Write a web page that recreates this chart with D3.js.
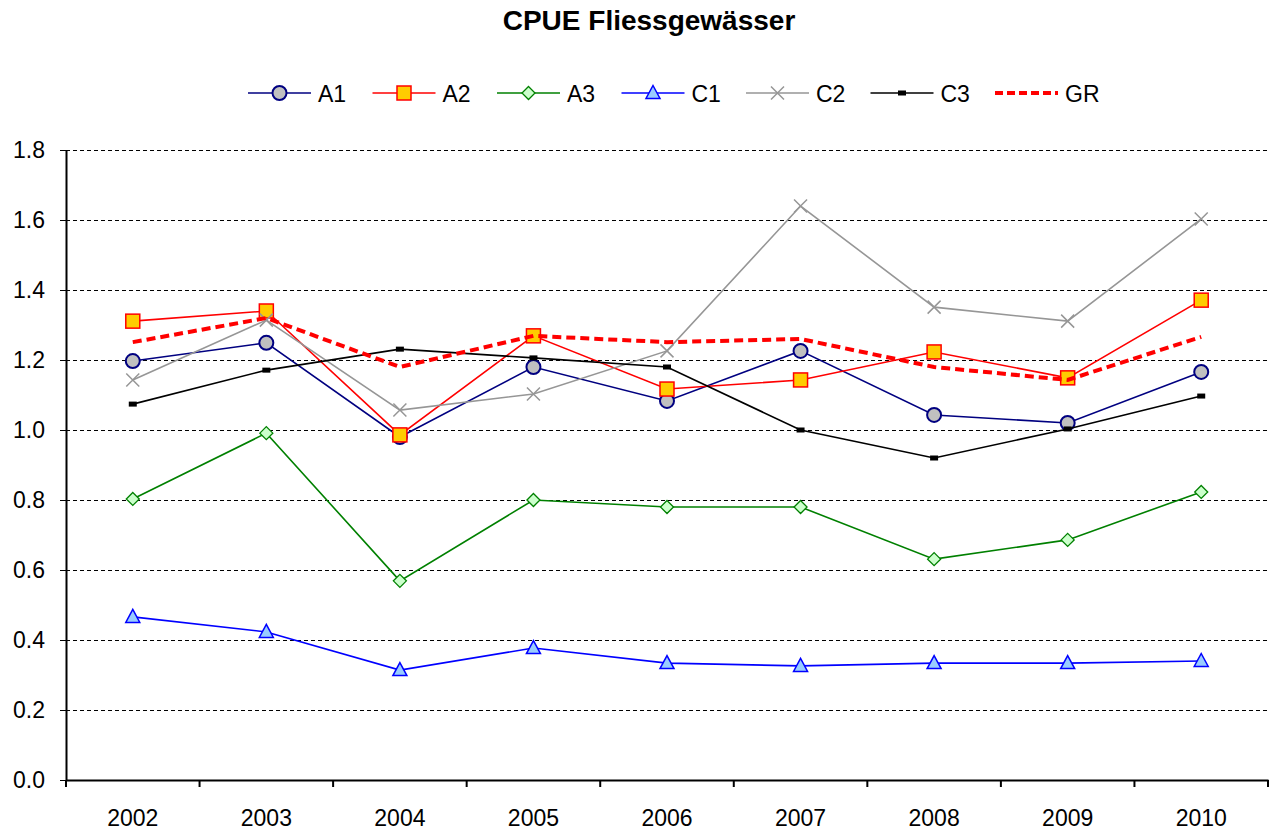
<!DOCTYPE html>
<html>
<head>
<meta charset="utf-8">
<script src="https://cdn.jsdelivr.net/npm/d3@7"></script>
<style>
  body { margin: 0; background: #fff; }
  text { font-family: "Liberation Sans", Arial, sans-serif; }
</style>
</head>
<body>
<div id="chart"></div>
<script>
// Data
const years = ['2002','2003','2004','2005','2006','2007','2008','2009','2010']
const A1 = [1.197, 1.249, 0.980, 1.180, 1.083, 1.226, 1.043, 1.020, 1.166]
const A2 = [1.311, 1.340, 0.986, 1.269, 1.117, 1.143, 1.223, 1.149, 1.371]
const A3 = [0.803, 0.991, 0.569, 0.800, 0.780, 0.780, 0.631, 0.686, 0.823]
const C1 = [0.466, 0.423, 0.314, 0.377, 0.334, 0.326, 0.334, 0.334, 0.340]
const C2 = [1.143, 1.314, 1.057, 1.103, 1.226, 1.640, 1.351, 1.311, 1.603]
const C3 = [1.074, 1.171, 1.231, 1.206, 1.180, 1.000, 0.920, 1.003, 1.097]
const GR = [1.251, 1.320, 1.180, 1.269, 1.251, 1.260, 1.180, 1.143, 1.266]
const yTicks = [0, 0.2, 0.4, 0.6, 0.8, 1.0, 1.2, 1.4, 1.6, 1.8]

const series = [
  { name: 'A1', values: A1, color: '#000080', marker: 'circle', fill: '#c0c0c0' },
  { name: 'A2', values: A2, color: '#ff0000', marker: 'square', fill: '#ffcc00' },
  { name: 'A3', values: A3, color: '#008000', marker: 'diamond', fill: '#ccffcc' },
  { name: 'C1', values: C1, color: '#0000ff', marker: 'triangle', fill: '#99ccff' },
  { name: 'C2', values: C2, color: '#969696', marker: 'x', fill: 'none' },
  { name: 'C3', values: C3, color: '#000000', marker: 'dash', fill: '#000' },
  { name: 'GR', values: GR, color: '#ff0000', marker: 'none', fill: 'none', dashed: true }
]

// Dimensions
const width = 1274, height = 834
const plot = { left: 66, right: 1268, top: 150, bottom: 780 }
const font = '"Liberation Sans", Arial, sans-serif'

const svg = d3.select('#chart').append('svg')
  .attr('width', width)
  .attr('height', height)

// Scales
const xScale = d3.scaleBand().domain(years).range([plot.left, plot.right])
const xPos = d => xScale(d) + xScale.bandwidth() / 2
const yScale = d3.scaleLinear().domain([0, 1.8]).range([plot.bottom, plot.top])

// Title
svg.append('text')
  .attr('x', 649).attr('y', 30)
  .attr('text-anchor', 'middle')
  .style('font-size', '28px').style('font-weight', 'bold')
  .text('CPUE Fliessgewässer')

// Gridlines
svg.append('g').selectAll('line')
  .data(yTicks.filter(t => t > 0))
  .join('line')
  .attr('x1', plot.left).attr('x2', plot.right)
  .attr('y1', d => yScale(d)).attr('y2', d => yScale(d))
  .attr('stroke', '#000').attr('stroke-width', 1)
  .attr('stroke-dasharray', '4,3')
  .attr('shape-rendering', 'crispEdges')

// Axes
const yAxis = d3.axisLeft(yScale)
  .tickValues(yTicks)
  .tickFormat(d3.format('.1f'))
  .tickSize(6).tickSizeOuter(0)
const yAxisGroup = svg.append('g')
  .attr('transform', `translate(${plot.left},0)`)
  .call(yAxis)
yAxisGroup.select('.domain').attr('stroke-width', 2)
yAxisGroup.selectAll('text').style('font-size', '23px').style('font-family', font).attr('x', -21).attr('fill', '#000')

const xAxis = d3.axisBottom(xScale).tickSize(0).tickSizeOuter(0)
const xAxisGroup = svg.append('g')
  .attr('transform', `translate(0,${plot.bottom})`)
  .call(xAxis)
xAxisGroup.select('.domain').attr('stroke-width', 2)
xAxisGroup.selectAll('text').style('font-size', '23px').style('font-family', font).attr('y', 30).attr('fill', '#000')
// category boundary ticks
xAxisGroup.selectAll('.bound')
  .data(d3.range(years.length + 1))
  .join('line')
  .attr('class', 'bound')
  .attr('x1', i => plot.left + i * xScale.step())
  .attr('x2', i => plot.left + i * xScale.step())
  .attr('y1', 0).attr('y2', 7)
  .attr('stroke', '#000').attr('stroke-width', 2)

// markers
function drawMarker(g, type, color, fill) {
  if (type === 'circle') {
    g.append('circle').attr('r', 7).attr('fill', fill).attr('stroke', color).attr('stroke-width', 2)
  } else if (type === 'square') {
    g.append('rect').attr('x', -7).attr('y', -7).attr('width', 14).attr('height', 14)
      .attr('fill', fill).attr('stroke', color).attr('stroke-width', 1.5)
  } else if (type === 'diamond') {
    g.append('path').attr('d', 'M0,-6.5L6.5,0L0,6.5L-6.5,0Z')
      .attr('fill', fill).attr('stroke', color).attr('stroke-width', 1.3)
  } else if (type === 'triangle') {
    g.append('path').attr('d', 'M0,-7.5L7,5.5L-7,5.5Z')
      .attr('fill', fill).attr('stroke', color).attr('stroke-width', 1.5)
  } else if (type === 'x') {
    g.append('path').attr('d', 'M-6.5,-6.5L6.5,6.5M-6.5,6.5L6.5,-6.5')
      .attr('stroke', color).attr('stroke-width', 1.5).attr('fill', 'none')
  } else if (type === 'dash') {
    g.append('rect').attr('x', -4).attr('y', -2.5).attr('width', 8).attr('height', 5).attr('fill', color)
  }
}

// Lines
const lineGenerator = d3.line()
  .x((d, i) => xPos(years[i]))
  .y(d => yScale(d))

series.forEach(s => {
  const g = svg.append('g')
  g.append('path')
    .datum(s.values)
    .attr('d', lineGenerator)
    .attr('fill', 'none')
    .attr('stroke', s.color)
    .attr('stroke-width', s.dashed ? 4 : 1.6)
    .attr('stroke-dasharray', s.dashed ? '9,5' : null)
  s.values.forEach((v, i) => {
    const m = g.append('g').attr('transform', `translate(${xPos(years[i])},${yScale(v)})`)
    drawMarker(m, s.marker, s.color, s.fill)
  })
})

// Legend
const legend = svg.append('g')
series.forEach((s, i) => {
  const x0 = 248 + i * 124.5
  const g = legend.append('g').attr('transform', `translate(${x0},93)`)
  g.append('line')
    .attr('x1', 0).attr('x2', 63)
    .attr('stroke', s.color)
    .attr('stroke-width', s.dashed ? 4 : 1.6)
    .attr('stroke-dasharray', s.dashed ? '8,4' : null)
  const m = g.append('g').attr('transform', 'translate(31.5,0)')
  drawMarker(m, s.marker, s.color, s.fill)
  g.append('text')
    .attr('x', 70).attr('y', 9)
    .style('font-size', '23px')
    .text(s.name)
})
</script>
</body>
</html>
